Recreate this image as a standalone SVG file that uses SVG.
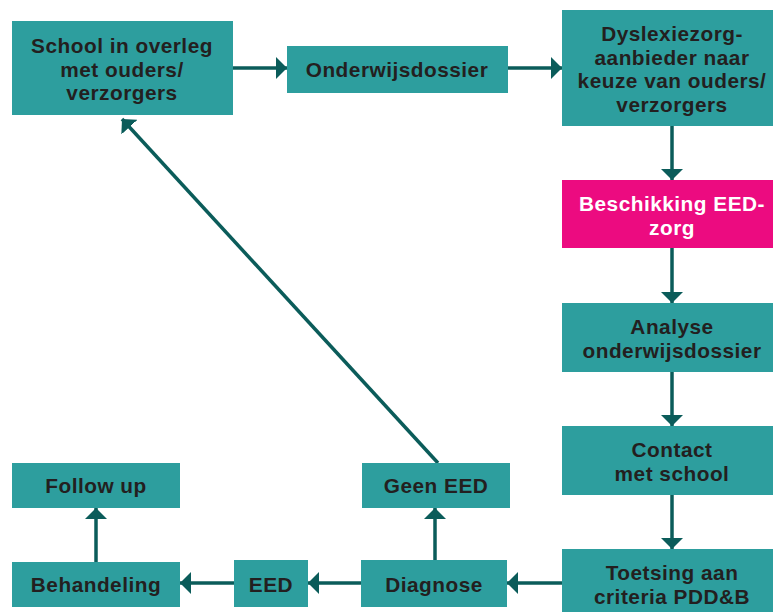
<svg xmlns="http://www.w3.org/2000/svg" width="773" height="612" viewBox="0 0 773 612">
<defs>
<style>
.box{fill:#2D9E9E}
.pink{fill:#EC0B80}
.t{font-family:"Liberation Sans",Arial,sans-serif;font-weight:700;font-size:20.8px;letter-spacing:0.5px;fill:#231F20;text-anchor:middle}
.w{fill:#FFFFFF}
.c{stroke:#0B5C5A;stroke-width:3.5;fill:none;marker-end:url(#ah)}
</style>
<marker id="ah" markerUnits="userSpaceOnUse" markerWidth="12" markerHeight="22" refX="11" refY="11" orient="auto" viewBox="0 0 12 22">
<path d="M0,0 L11,11 L0,22 Z" fill="#0B5C5A"/>
</marker>
</defs>
<rect width="773" height="612" fill="#FFFFFF"/>
<g id="connectors">
<line class="c" x1="233" y1="68" x2="287" y2="68"/>
<line class="c" x1="508" y1="68" x2="562" y2="68"/>
<line class="c" x1="672" y1="126" x2="672" y2="180"/>
<line class="c" x1="672" y1="248" x2="672" y2="303"/>
<line class="c" x1="672" y1="372" x2="672" y2="426"/>
<line class="c" x1="672" y1="495" x2="672" y2="549"/>
<line class="c" x1="562" y1="583" x2="507" y2="583"/>
<line class="c" x1="361" y1="583" x2="308" y2="583"/>
<line class="c" x1="234" y1="583" x2="180" y2="583"/>
<line class="c" x1="96" y1="562" x2="96" y2="508"/>
<line class="c" x1="435" y1="560" x2="435" y2="508"/>
<line class="c" x1="438" y1="463" x2="122" y2="119"/>
</g>
<g id="school">
<rect class="box" x="12" y="21" width="221" height="94"/>
<text class="t" x="122" y="53">School in overleg</text>
<text class="t" x="122" y="76.5">met ouders/</text>
<text class="t" x="122" y="100">verzorgers</text>
</g>
<g id="onderwijsdossier">
<rect class="box" x="287" y="46" width="221" height="47"/>
<text class="t" x="397" y="77">Onderwijsdossier</text>
</g>
<g id="dyslexiezorg">
<rect class="box" x="562" y="10" width="220" height="116"/>
<text class="t" x="672" y="41">Dyslexiezorg-</text>
<text class="t" x="672" y="64.5">aanbieder naar</text>
<text class="t" x="672" y="88">keuze van ouders/</text>
<text class="t" x="672" y="111.5">verzorgers</text>
</g>
<g id="beschikking">
<rect class="pink" x="562" y="180" width="220" height="68"/>
<text class="t w" x="672" y="211">Beschikking EED-</text>
<text class="t w" x="672" y="234.5">zorg</text>
</g>
<g id="analyse">
<rect class="box" x="562" y="303" width="220" height="69"/>
<text class="t" x="672" y="334">Analyse</text>
<text class="t" x="672" y="357.5">onderwijsdossier</text>
</g>
<g id="contact">
<rect class="box" x="562" y="426" width="220" height="69"/>
<text class="t" x="672" y="457">Contact</text>
<text class="t" x="672" y="480.5">met school</text>
</g>
<g id="toetsing">
<rect class="box" x="562" y="549" width="220" height="70"/>
<text class="t" x="672" y="580">Toetsing aan</text>
<text class="t" x="672" y="603.5">criteria PDD&amp;B</text>
</g>
<g id="diagnose">
<rect class="box" x="361" y="560" width="146" height="47"/>
<text class="t" x="434" y="592">Diagnose</text>
</g>
<g id="geen-eed">
<rect class="box" x="362" y="463" width="148" height="45"/>
<text class="t" x="436" y="493">Geen EED</text>
</g>
<g id="eed">
<rect class="box" x="234" y="560" width="74" height="47"/>
<text class="t" x="271" y="592">EED</text>
</g>
<g id="behandeling">
<rect class="box" x="12" y="562" width="168" height="45"/>
<text class="t" x="96" y="592">Behandeling</text>
</g>
<g id="follow-up">
<rect class="box" x="12" y="463" width="168" height="45"/>
<text class="t" x="96" y="493">Follow up</text>
</g>
</svg>
